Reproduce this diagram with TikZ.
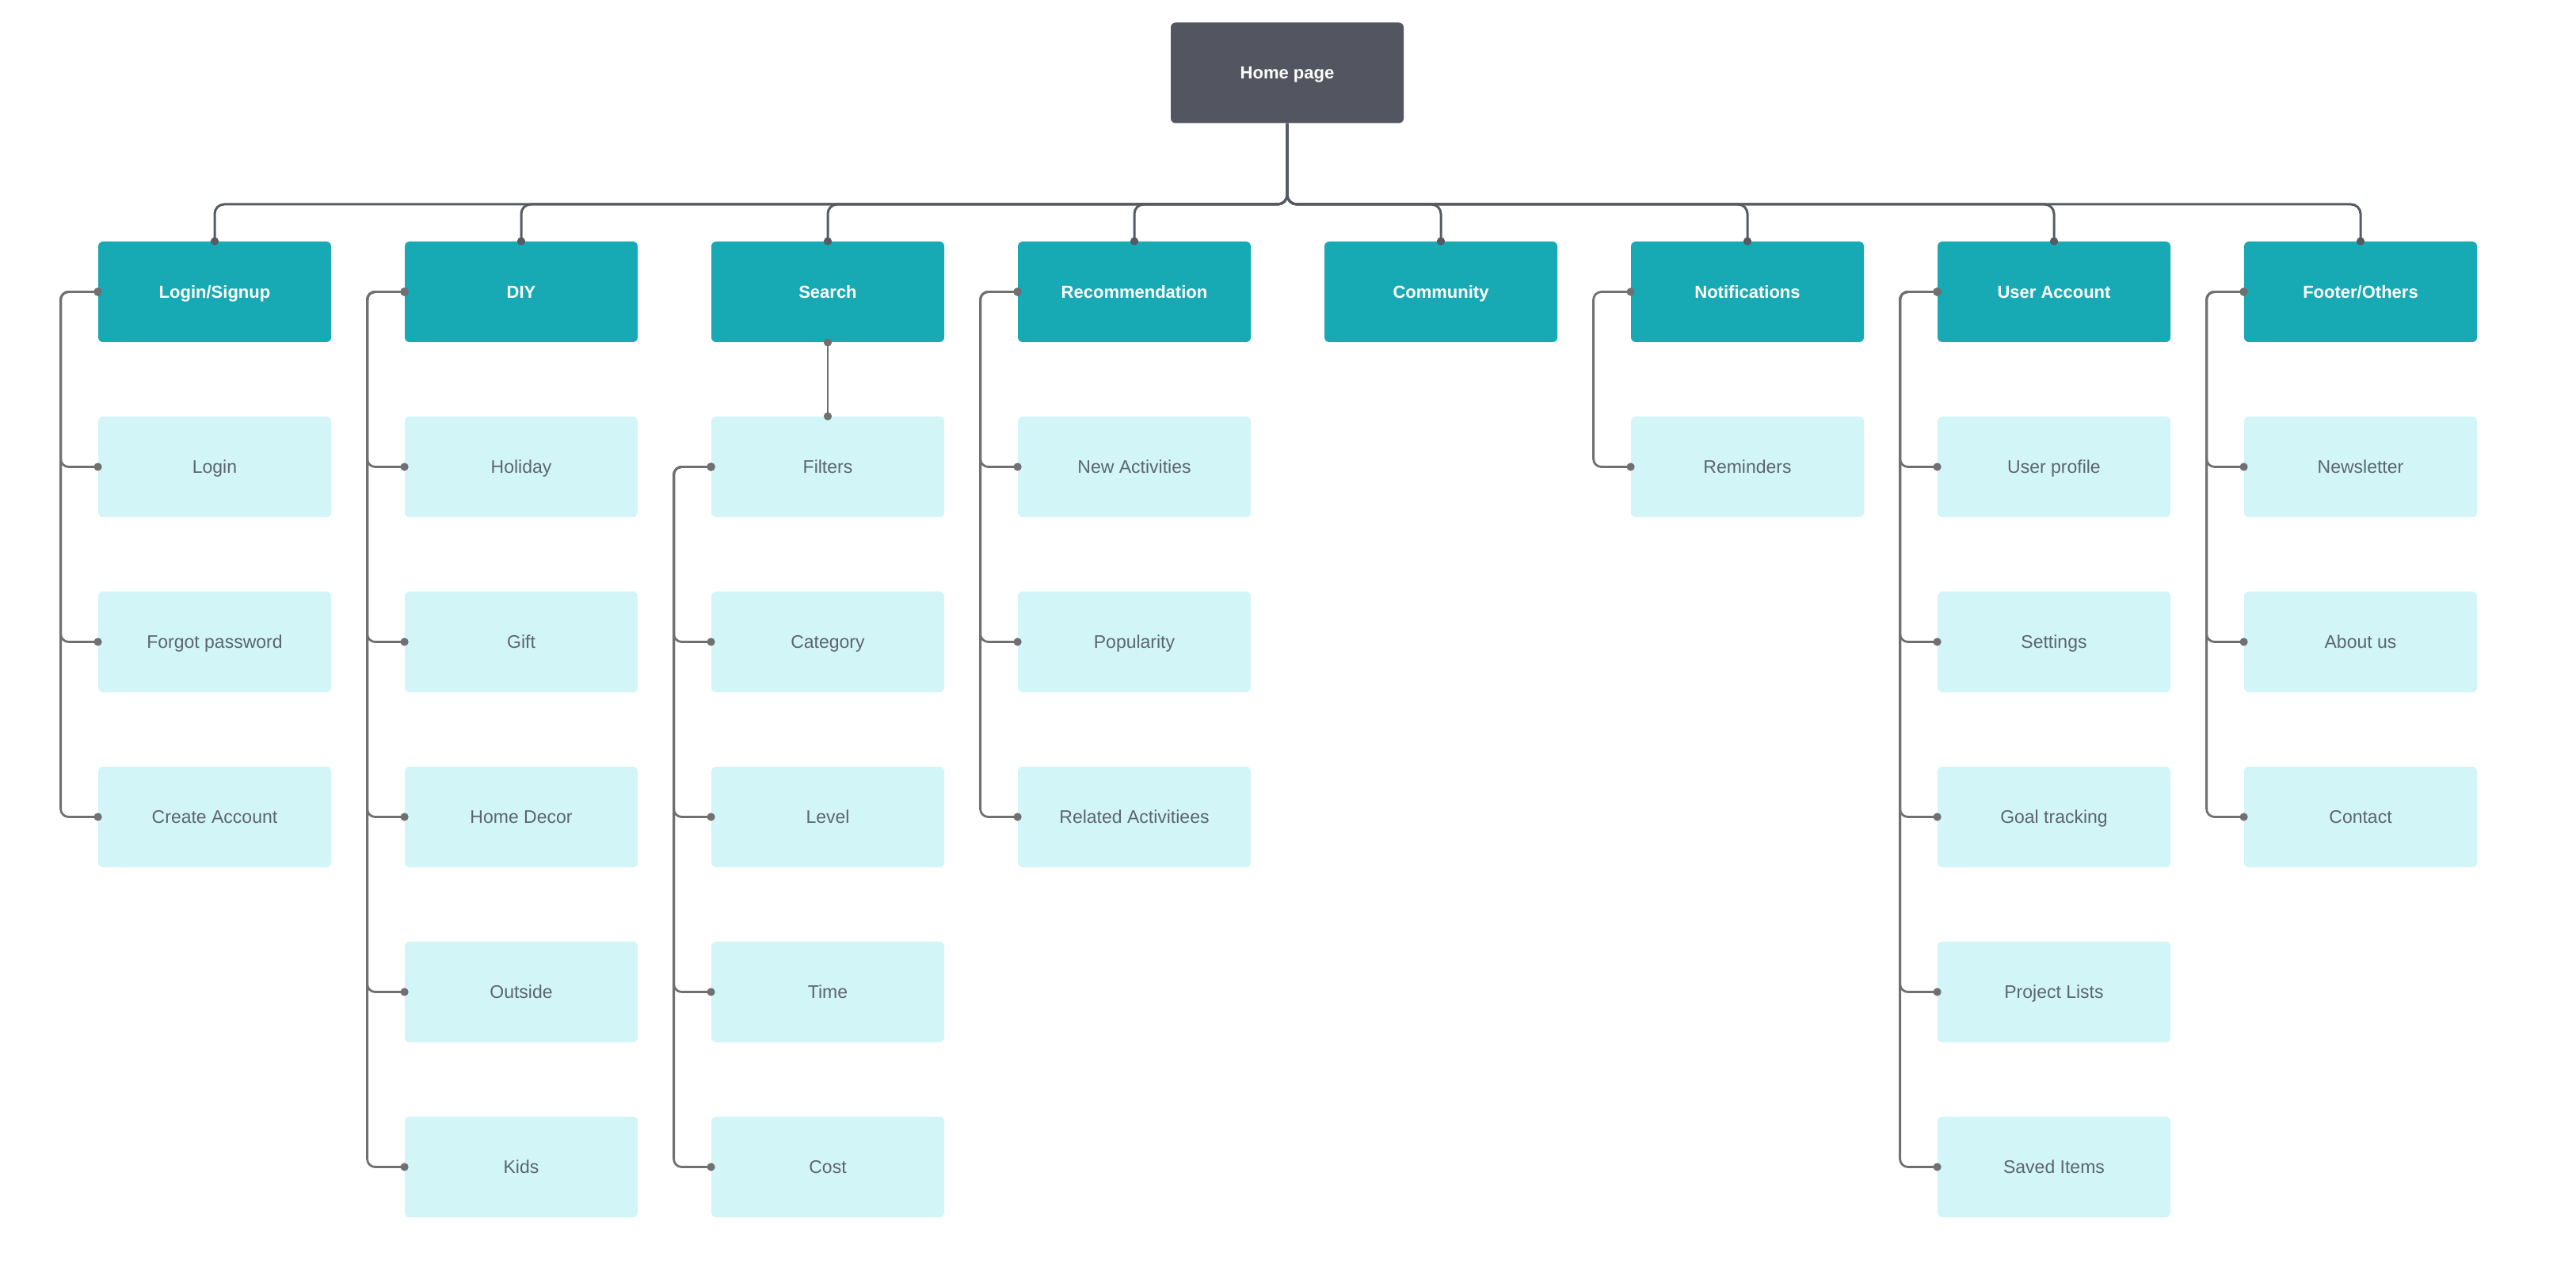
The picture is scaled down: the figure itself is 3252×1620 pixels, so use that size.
\documentclass[tikz,border=0pt]{standalone}
\usepackage{fontspec}
\setmainfont{Liberation Sans}
\usetikzlibrary{arrows.meta}
\definecolor{homecol}{HTML}{535560}
\definecolor{tealbox}{HTML}{17AAB5}
\definecolor{lightbox}{HTML}{D2F5F8}
\definecolor{buscol}{HTML}{555A63}
\definecolor{linkcol}{HTML}{707070}
\definecolor{subtext}{HTML}{5C6670}
\begin{document}
\begin{tikzpicture}[x=0.5pt,y=-0.5pt,
  boxbase/.style={rectangle, rounded corners=3pt, inner sep=0pt, minimum width=147pt, minimum height=63.5pt, align=center, text height=8pt, text depth=0pt},
  homebox/.style={boxbase, fill=homecol, text=white, font=\fontsize{11pt}{13pt}\selectfont\bfseries},
  lvlbox/.style={boxbase, fill=tealbox, text=white, font=\fontsize{11pt}{13pt}\selectfont\bfseries},
  subbox/.style={boxbase, fill=lightbox, text=subtext, font=\fontsize{11.5pt}{13pt}\selectfont},
  busline/.style={draw=buscol, line width=1.5pt, rounded corners=6pt, -{Circle[length=5pt]}, shorten >=-2.5pt},
  linkline/.style={draw=linkcol, line width=1.4pt, rounded corners=5pt, {Circle[length=5pt]}-{Circle[length=5pt]}, shorten <=-2.5pt, shorten >=-2.5pt}
]
\useasboundingbox (0,0) rectangle (3252,1620);

\node[homebox] (home) at (1625,92) {Home page};
\coordinate (bus) at (1625,258);

\foreach \name/\x/\lab in {login/271/Login\slash Signup, diy/658/DIY, search/1045/Search, recom/1432/Recommendation, community/1819/Community, notif/2206/Notifications, account/2593/User Account, footer/2980/Footer\slash Others}{
  \node[lvlbox] (\name) at (\x,368.5) {\lab};
  \draw[busline] (home.south) -- (bus) -| (\name.north);
}

\foreach \p/\x/\items in {login/271/{Login,Forgot password,Create Account}, diy/658/{Holiday,Gift,Home Decor,Outside,Kids}, recom/1432/{New Activities,Popularity,Related Activitiees}, notif/2206/{Reminders}, account/2593/{User profile,Settings,Goal tracking,Project Lists,Saved Items}, footer/2980/{Newsletter,About us,Contact}}{
  \foreach \lab [count=\i] in \items {
    \node[subbox] (\p-\i) at (\x,{368.5+221*\i}) {\lab};
    \draw[linkline] (\p.west) -- ++(-47,0) |- (\p-\i.west);
  }
}

\node[subbox] (filters) at (1045,589.5) {Filters};
\draw[linkline] (search.south) -- (filters.north);
\foreach \lab [count=\i] in {Category,Level,Time,Cost}{
  \node[subbox] (filters-\i) at (1045,{589.5+221*\i}) {\lab};
  \draw[linkline] (filters.west) -- ++(-47,0) |- (filters-\i.west);
}
\end{tikzpicture}
\end{document}
